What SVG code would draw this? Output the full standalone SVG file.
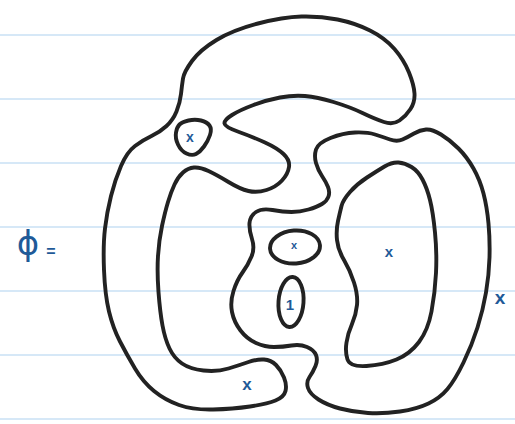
<svg xmlns="http://www.w3.org/2000/svg" width="515" height="424" viewBox="0 0 515 424">
<style>
.rule{stroke:#c9e0f4;stroke-width:1.6}
.curve{fill:none;stroke:#222;stroke-width:3.9;stroke-linejoin:round;stroke-linecap:round}
.lbl{font-family:"Liberation Sans",Arial,sans-serif;font-weight:bold;fill:#1f5a98;text-anchor:middle}
.sym{font-family:"DejaVu Sans",sans-serif;font-weight:normal;fill:#1f5a98;text-anchor:middle}
</style>
<rect width="515" height="424" fill="#fff"/>
<g id="paper">
<line class="rule" x1="0" y1="35" x2="515" y2="35"/>
<line class="rule" x1="0" y1="99" x2="515" y2="99"/>
<line class="rule" x1="0" y1="163" x2="515" y2="163"/>
<line class="rule" x1="0" y1="227" x2="515" y2="227"/>
<line class="rule" x1="0" y1="291" x2="515" y2="291"/>
<line class="rule" x1="0" y1="355" x2="515" y2="355"/>
<line class="rule" x1="0" y1="419" x2="515" y2="419"/>
</g>
<g id="curve-left">
<path class="curve" d="M183,78.5 Q184,72 192,61 Q200,50 216.5,40 Q233,30 258,23.5 Q283,17 301.5,16.5 Q320,16 337.5,19.5 Q355,23 370,30.5 Q385,38 394.5,49 Q404,60 409,72.5 Q414,85 414.5,93.5 Q415,102 410.5,109 Q406,116 399.5,120.5 Q393,125 384,122 Q375,119 362.5,113 Q350,107 333.5,102 Q317,97 305,96 Q293,95 280,97.5 Q267,100 253.5,105 Q240,110 232,115 Q224,120 224.5,123.5 Q225,127 239,132 Q253,137 265,142.5 Q277,148 283.5,154 Q290,160 289,167 Q288,174 282,180.5 Q276,187 266.5,190 Q257,193 248.5,191 Q240,189 228.5,182 Q217,175 208.5,171 Q200,167 194,167.5 Q188,168 183,172.5 Q178,177 174.5,184.5 Q171,192 168,202 Q165,212 162,226 Q159,240 158,256 Q157,272 158.5,292 Q160,312 162.5,325.5 Q165,339 169.5,348.5 Q174,358 182,363.5 Q190,369 203.5,370.5 Q217,372 228.5,368.5 Q240,365 248.5,362 Q257,359 264,359.5 Q271,360 276,365 Q281,370 284,377.5 Q287,385 285.5,391 Q284,397 275.5,400.5 Q267,404 250,406.5 Q233,409 213,409.5 Q193,410 179,405 Q165,400 154,391 Q143,382 135,368.5 Q127,355 120,341.5 Q113,328 109,311.5 Q105,295 104,270 Q103,245 105,228.5 Q107,212 111,196 Q115,180 121,166 Q127,152 135,146 Q143,140 151.5,136 Q160,132 166.5,126 Q173,120 176.5,111.5 Q180,103 181,94 Q182,85 183,78.5 Z"/>
</g>
<g id="curve-right">
<path class="curve" d="M316,149.5 Q318,143 330.5,138 Q343,133 355,132.5 Q367,132 375,134.5 Q383,137 390,139.5 Q397,142 402.5,139.5 Q408,137 414,133.5 Q420,130 426,129.5 Q432,129 441,134.5 Q450,140 458.5,148.5 Q467,157 473.5,168.5 Q480,180 483.5,193.5 Q487,207 488.5,223.5 Q490,240 489.5,257.5 Q489,275 486,292.5 Q483,310 477.5,327.5 Q472,345 463.5,362.5 Q455,380 447.5,389 Q440,398 428.5,403.5 Q417,409 400,411.5 Q383,414 368,413 Q353,412 340,408.5 Q327,405 318.5,399.5 Q310,394 308,388 Q306,382 309.5,377 Q313,372 315.5,366 Q318,360 316,355 Q314,350 307,347 Q300,344 291.5,345.5 Q283,347 274,347 Q265,347 256,343 Q247,339 240.5,330.5 Q234,322 232,312 Q230,302 233.5,291 Q237,280 242.5,272.5 Q248,265 251.5,256.5 Q255,248 252,239 Q249,230 249.5,223 Q250,216 256,212 Q262,208 272.5,210 Q283,212 291.5,212 Q300,212 308.5,209.5 Q317,207 322,204 Q327,201 328.5,196.5 Q330,192 328,187 Q326,182 322,176 Q318,170 316,163 Q314,156 316,149.5 Z"/>
</g>
<g id="curve-inner-right">
<path class="curve" d="M341.5,206 Q343,200 350,192 Q357,184 367,177.5 Q377,171 384.5,166.5 Q392,162 398.5,162.5 Q405,163 411.5,167 Q418,171 422.5,179.5 Q427,188 430,200 Q433,212 435,232.5 Q437,253 436,273 Q435,293 431.5,311.5 Q428,330 419,342 Q410,354 396.5,359.5 Q383,365 366.5,366 Q350,367 347.5,359.5 Q345,352 346.5,342.5 Q348,333 352,324 Q356,315 357,305 Q358,295 354,282.5 Q350,270 344,260 Q338,250 337,240 Q336,230 338,221 Q340,212 341.5,206 Z"/>
</g>
<g id="loop-small">
<path class="curve" d="M179.5,124.5 Q182,122 188.5,120.5 Q195,119 201,120.5 Q207,122 209.5,125.5 Q212,129 210,135 Q208,141 204,146.5 Q200,152 196,154 Q192,156 186.5,153.5 Q181,151 178,144.5 Q175,138 176,132.5 Q177,127 179.5,124.5 Z"/>
</g>
<g id="oval-center">
<ellipse class="curve" cx="295" cy="247" rx="25" ry="16.5" transform="rotate(-4 295 247)"/>
</g>
<g id="oval-vertical">
<ellipse class="curve" cx="291" cy="302" rx="12.5" ry="25" transform="rotate(4 291 302)"/>
</g>
<g id="labels">
<text class="lbl" x="190" y="141.5" font-size="14">x</text>
<text class="lbl" x="294" y="249" font-size="11">x</text>
<text class="lbl" x="389" y="257" font-size="15">x</text>
<text class="lbl" x="500" y="304" font-size="19">x</text>
<text class="lbl" x="247" y="389.5" font-size="17">x</text>
<text class="lbl" x="290" y="310" font-size="15">1</text>
<text class="sym" x="28" y="255" font-size="34">ϕ</text>
<text class="lbl" x="51" y="257" font-size="16">=</text>
</g>
</svg>
